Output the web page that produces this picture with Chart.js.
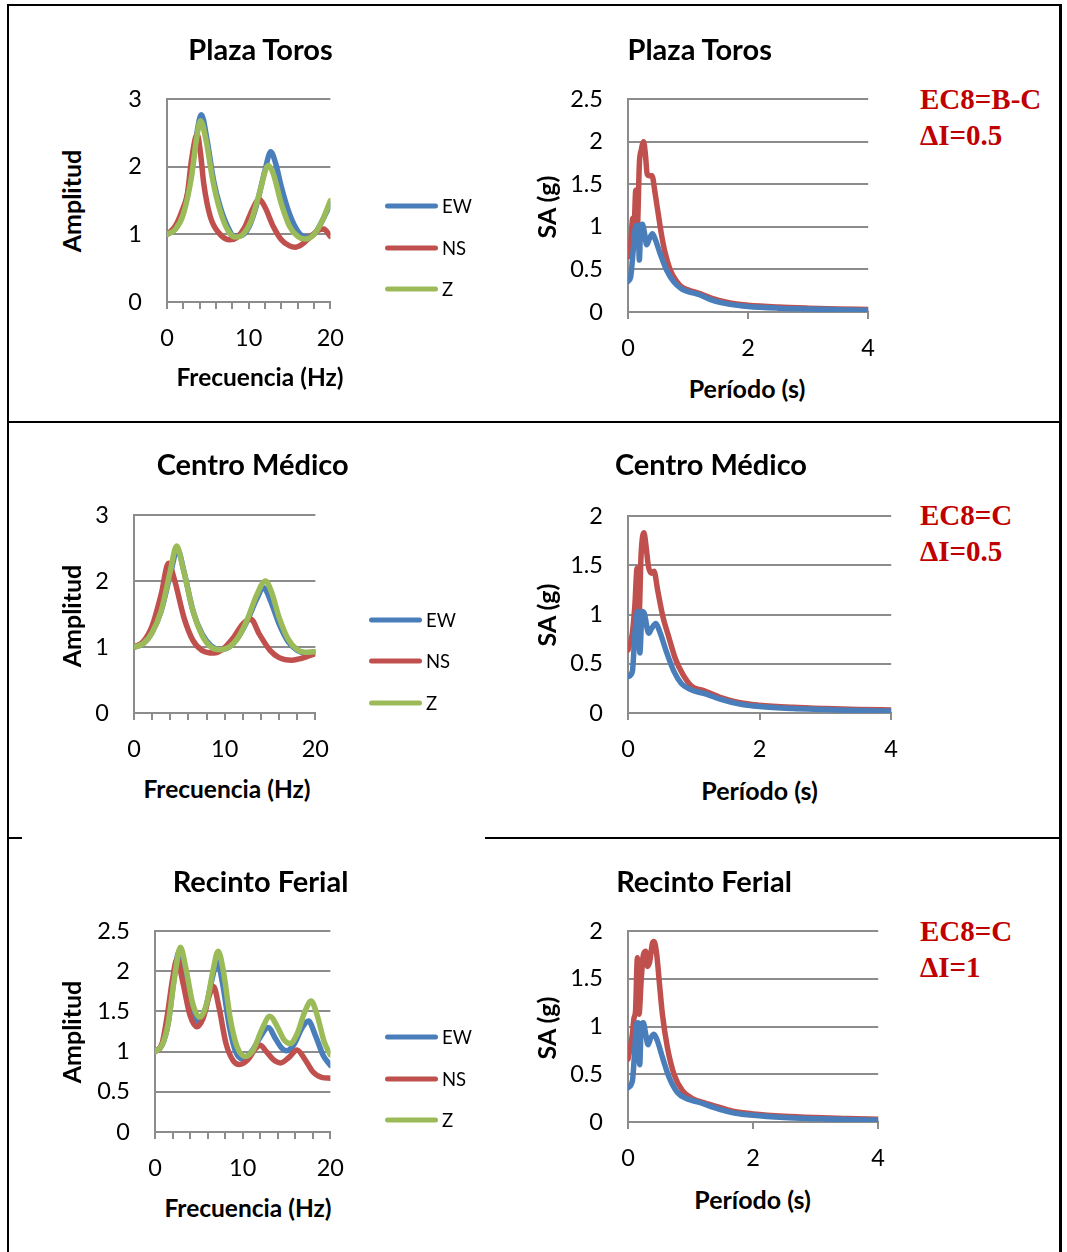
<!DOCTYPE html>
<html>
<head>
<meta charset="utf-8">
<script src="https://cdn.jsdelivr.net/npm/chart.js@4.4.1/dist/chart.umd.min.js"></script>
<style>
html,body{margin:0;padding:0;background:#fff;}
body{width:1067px;height:1252px;position:relative;overflow:hidden;font-family:Lato,"Open Sans",sans-serif;}
.txt{position:absolute;white-space:nowrap;line-height:1;color:#000;}
.ctr{transform:translate(-50%,-50%);}
.rot{transform:translate(-50%,-50%) rotate(-90deg);}
.lft{transform:translate(0,-50%);}
.rule{position:absolute;background:#000;}
.sw{position:absolute;height:5px;border-radius:3px;transform:translate(0,-50%);}
</style>
</head>
<body>
<script>
// ---------------- DATA ----------------
const ampSeriesNames = ['EW', 'NS', 'Z'];
const freqTickLabels = [0, 10, 20];
const periodTickLabels = [0, 2, 4];

// Plaza Toros – amplitude vs frequency (Hz)
const plazaAmpEW = [[0,1.0],[1,1.08],[2,1.33],[3,1.92],[3.6,2.45],[4.2,2.77],[4.9,2.4],[5.7,1.8],[6.5,1.41],[7.4,1.12],[8.2,0.98],[9,0.98],[10,1.1],[11,1.45],[12,1.95],[12.7,2.22],[13.3,2.05],[14,1.7],[15,1.3],[16,1.05],[17,0.96],[18,1.0],[19,1.2],[20,1.45]];
const plazaAmpNS = [[0,1.0],[1,1.12],[2,1.4],[2.5,1.6],[3,2.1],[3.7,2.48],[4.1,2.2],[4.5,1.75],[5.3,1.26],[6.5,1.0],[7.7,0.92],[8.5,0.95],[9.5,1.1],[10.5,1.38],[11.3,1.52],[12,1.4],[13,1.12],[14,0.92],[15,0.83],[15.7,0.81],[16.5,0.85],[17.5,0.96],[18.5,1.06],[19.2,1.08],[20,0.97]];
const plazaAmpZ  = [[0,1.0],[1,1.07],[2,1.3],[3,1.85],[3.6,2.4],[4.1,2.68],[4.8,2.38],[5.6,1.8],[6.5,1.35],[7.5,1.05],[8.4,0.96],[9.3,1.0],[10.3,1.2],[11.3,1.6],[12.4,2.02],[13,1.9],[14,1.45],[15,1.12],[16,0.97],[16.9,0.93],[18,1.0],[19,1.2],[20,1.5]];

// Centro Médico – amplitude vs frequency (Hz)
const centroAmpEW = [[0,1.0],[1,1.05],[2,1.22],[3,1.55],[4,2.1],[4.8,2.48],[5.5,2.15],[6.5,1.55],[7.5,1.2],[8.5,1.02],[9.5,0.96],[10.5,1.0],[11.5,1.15],[12.5,1.4],[13.5,1.72],[14.3,1.9],[15,1.72],[16,1.35],[17,1.08],[18,0.95],[19,0.91],[20,0.93]];
const centroAmpNS = [[0,1.0],[1,1.08],[2,1.32],[3,1.8],[3.8,2.27],[4.5,2.0],[5.5,1.45],[6.5,1.1],[7.5,0.95],[8.8,0.91],[9.8,0.97],[11,1.15],[12,1.35],[12.9,1.42],[13.8,1.2],[15,0.95],[16,0.84],[17.4,0.8],[18.5,0.83],[20,0.9]];
const centroAmpZ  = [[0,1.0],[1,1.05],[2,1.22],[3,1.55],[4,2.15],[4.7,2.53],[5.4,2.2],[6.5,1.55],[7.5,1.18],[8.5,1.0],[9.5,0.96],[10.5,1.0],[11.5,1.15],[12.5,1.42],[13.5,1.78],[14.5,2.0],[15.2,1.82],[16,1.45],[17,1.12],[18,0.96],[18.8,0.92],[20,0.93]];

// Recinto Ferial – amplitude vs frequency (Hz)
const ferialAmpEW = [[0,1.0],[0.8,1.08],[1.5,1.35],[2.1,1.85],[2.75,2.25],[3.4,1.95],[4.2,1.5],[4.95,1.37],[5.8,1.55],[6.5,1.9],[7.1,2.12],[7.7,1.85],[8.5,1.3],[9.2,1.0],[10.0,0.91],[11,1.0],[12,1.18],[12.9,1.3],[13.8,1.15],[14.4,1.05],[15.0,1.01],[15.8,1.08],[16.8,1.3],[17.5,1.38],[18.3,1.2],[19.2,0.95],[20,0.83]];
const ferialAmpNS = [[0,1.0],[0.8,1.1],[1.4,1.45],[2.0,1.9],[2.5,2.15],[3.2,1.85],[4.0,1.45],[4.76,1.31],[5.5,1.42],[6.2,1.7],[6.67,1.81],[7.3,1.55],[8.1,1.1],[8.9,0.89],[9.6,0.84],[10.6,0.9],[11.4,1.03],[12.0,1.08],[12.7,1.0],[13.5,0.9],[14.3,0.86],[15.3,0.93],[16.2,1.02],[17.0,0.92],[18.0,0.75],[19.0,0.68],[20,0.67]];
const ferialAmpZ  = [[0,1.0],[0.8,1.08],[1.5,1.35],[2.2,1.9],[2.9,2.3],[3.5,2.05],[4.3,1.6],[5.1,1.43],[5.9,1.6],[6.6,2.0],[7.2,2.25],[7.8,2.0],[8.6,1.4],[9.4,1.05],[10.3,0.94],[11.2,1.02],[12.2,1.28],[13.1,1.44],[14,1.3],[14.7,1.15],[15.4,1.1],[16.2,1.22],[17.1,1.5],[17.8,1.63],[18.5,1.45],[19.3,1.12],[20,0.96]];

// Spectral acceleration SA (g) vs period (s): red and blue curves
const plazaSARed  = [[0,0.65],[0.04,0.75],[0.08,1.1],[0.1,1.0],[0.13,1.43],[0.155,1.0],[0.19,1.75],[0.22,1.9],[0.26,2.0],[0.29,1.85],[0.32,1.62],[0.36,1.6],[0.4,1.6],[0.45,1.4],[0.5,1.17],[0.56,0.9],[0.62,0.69],[0.7,0.5],[0.81,0.36],[0.9,0.29],[1.0,0.26],[1.2,0.215],[1.4,0.16],[1.7,0.105],[2,0.08],[2.5,0.058],[3,0.045],[3.5,0.036],[4,0.03]];
const plazaSABlue = [[0,0.36],[0.044,0.41],[0.078,0.65],[0.117,0.96],[0.144,1.02],[0.172,0.96],[0.189,0.61],[0.211,0.99],[0.239,1.03],[0.267,0.96],[0.311,0.79],[0.356,0.86],[0.406,0.92],[0.45,0.86],[0.533,0.69],[0.644,0.49],[0.756,0.36],[0.894,0.27],[1.0,0.24],[1.2,0.2],[1.4,0.14],[1.7,0.09],[2,0.065],[2.5,0.045],[3,0.035],[3.5,0.025],[4,0.02]];

const centroSARed  = [[0,0.64],[0.066,0.81],[0.105,1.1],[0.138,1.47],[0.165,0.95],[0.2,1.62],[0.242,1.83],[0.275,1.69],[0.31,1.49],[0.358,1.42],[0.396,1.44],[0.45,1.25],[0.53,0.98],[0.616,0.78],[0.726,0.54],[0.836,0.39],[0.97,0.27],[1.14,0.23],[1.4,0.16],[1.7,0.105],[2,0.08],[2.5,0.058],[3,0.045],[3.5,0.036],[4,0.03]];
const centroSABlue = [[0,0.37],[0.066,0.42],[0.105,0.81],[0.149,1.03],[0.18,0.61],[0.215,1.03],[0.248,1.01],[0.314,0.81],[0.358,0.86],[0.424,0.91],[0.48,0.83],[0.59,0.61],[0.7,0.42],[0.81,0.3],[0.946,0.24],[1.03,0.22],[1.2,0.19],[1.4,0.14],[1.7,0.09],[2,0.065],[2.5,0.045],[3,0.035],[3.5,0.025],[4,0.02]];

const ferialSARed  = [[0,0.66],[0.07,0.92],[0.096,1.09],[0.12,1.16],[0.15,1.72],[0.176,1.13],[0.213,1.51],[0.245,1.75],[0.283,1.79],[0.31,1.63],[0.347,1.68],[0.39,1.87],[0.416,1.89],[0.46,1.75],[0.5,1.47],[0.55,1.13],[0.63,0.78],[0.736,0.5],[0.87,0.33],[1.03,0.245],[1.22,0.2],[1.48,0.15],[1.7,0.11],[2,0.085],[2.5,0.06],[3,0.046],[3.5,0.037],[4,0.03]];
const ferialSABlue = [[0,0.36],[0.07,0.43],[0.107,0.75],[0.133,1.02],[0.16,1.04],[0.187,0.6],[0.213,1.02],[0.245,1.04],[0.283,0.92],[0.32,0.81],[0.363,0.88],[0.416,0.92],[0.47,0.85],[0.55,0.68],[0.656,0.47],[0.79,0.31],[0.95,0.24],[1.11,0.21],[1.48,0.13],[1.7,0.095],[2,0.07],[2.5,0.047],[3,0.035],[3.5,0.025],[4,0.02]];

const siteTitles = ['Plaza Toros', 'Centro Médico', 'Recinto Ferial'];
const ec8Class = ['EC8=B-C', 'EC8=C', 'EC8=C'];
const deltaI = ['ΔI=0.5', 'ΔI=0.5', 'ΔI=1'];

// ---------------- STYLE / LAYOUT ----------------
const FONT = 'Lato, "Open Sans", sans-serif';
const COL = { EW: '#4A7EBB', NS: '#C0504D', Z: '#9BBB59', red: '#C0504D', blue: '#4A7EBB' };
const GRID = '#8C8C8C';
const TICK_SIZE = 23.5;

Chart.defaults.font.family = FONT;
Chart.defaults.color = '#000';

function addText(text, x, y, cls, size, weight, extra) {
  const d = document.createElement('div');
  d.className = 'txt ' + cls;
  d.textContent = text;
  d.style.left = x + 'px';
  d.style.top = y + 'px';
  d.style.fontSize = size + 'px';
  d.style.fontWeight = weight;
  if (extra) Object.assign(d.style, extra);
  document.body.appendChild(d);
}

function rule(x, y, w, h) {
  const d = document.createElement('div');
  d.className = 'rule';
  Object.assign(d.style, { left: x + 'px', top: y + 'px', width: w + 'px', height: h + 'px' });
  document.body.appendChild(d);
}

function toPts(arr) { return arr.map(p => ({ x: p[0], y: p[1] })); }

function chartConfig(xMax, xStep, xLabels, yMax, yStep, datasets, yW, xH) {
  return {
    type: 'line',
    data: { datasets },
    options: {
      responsive: false,
      animation: false,
      layout: { padding: { top: 2, right: 2, left: 0, bottom: 0 } },
      plugins: { legend: { display: false }, tooltip: { enabled: false }, title: { display: false } },
      elements: {
        point: { radius: 0 },
        line: { borderWidth: 5.5, cubicInterpolationMode: 'monotone', borderCapStyle: 'round', borderJoinStyle: 'round' }
      },
      scales: {
        x: {
          type: 'linear', min: 0, max: xMax,
          afterFit: s => { s.height = xH; },
          ticks: {
            stepSize: xStep, autoSkip: false, maxRotation: 0, padding: 15,
            color: '#000', font: { family: FONT, size: TICK_SIZE },
            callback: v => (xLabels.indexOf(v) >= 0 ? String(v) : '')
          },
          grid: { drawOnChartArea: false, drawTicks: true, tickLength: 7, color: GRID, lineWidth: 2 },
          border: { color: GRID, width: 2 }
        },
        y: {
          type: 'linear', min: 0, max: yMax,
          afterFit: s => { s.width = yW; },
          ticks: {
            stepSize: yStep, padding: 25, color: '#000', font: { family: FONT, size: TICK_SIZE },
            callback: v => String(Math.round(v * 10) / 10)
          },
          grid: { drawTicks: false, color: GRID, lineWidth: 2 },
          border: { color: GRID, width: 2 }
        }
      }
    }
  };
}

function makeChart(box, xMax, xStep, xLabels, yMax, yStep, datasets) {
  const [l, t, r, b] = box;
  const yW = 80, xH = 60;
  const cv = document.createElement('canvas');
  let W = (r - l) + yW + 40, H = (b - t) + xH + 40;
  cv.width = W; cv.height = H;
  cv.style.cssText = `position:absolute;left:0px;top:0px;width:${W}px;height:${H}px;`;
  document.body.appendChild(cv);
  // first pass: measure the offsets the layout adds around the plot area
  let ch = new Chart(cv, chartConfig(xMax, xStep, xLabels, yMax, yStep, datasets, yW, xH));
  const ca = ch.chartArea;
  const offL = ca.left, offT = ca.top, offR = W - ca.right, offB = H - ca.bottom;
  ch.destroy();
  W = Math.round(offL + (r - l) + offR);
  H = Math.round(offT + (b - t) + offB);
  cv.width = W; cv.height = H;
  cv.style.cssText = `position:absolute;left:${Math.round(l - offL)}px;top:${Math.round(t - offT)}px;width:${W}px;height:${H}px;`;
  new Chart(cv, chartConfig(xMax, xStep, xLabels, yMax, yStep, datasets, yW, xH));
}

function ampDatasets(ew, ns, z) {
  const vals = { EW: ew, NS: ns, Z: z };
  const order = { EW: 3, NS: 2, Z: 1 };
  return ampSeriesNames.map(n => ({ label: n, data: toPts(vals[n]), borderColor: COL[n], order: order[n], fill: false }));
}
function saDatasets(red, blue) {
  return [
    { label: 'SA rojo', data: toPts(red), borderColor: COL.red, order: 2, fill: false },
    { label: 'SA azul', data: toPts(blue), borderColor: COL.blue, order: 1, fill: false }
  ];
}

// plot areas [left, top, right, bottom]
const ampBoxes = [[167, 99, 330, 302], [134, 515, 315, 713], [155, 931, 330, 1132]];
const saBoxes = [[628, 99, 868, 312], [628, 516, 891, 713], [628, 931, 878, 1122]];
const ampYMax = [3, 3, 2.5];
const ampYStep = [1, 1, 0.5];
const saYMax = [2.5, 2, 2];

const ampData = [
  [plazaAmpEW, plazaAmpNS, plazaAmpZ],
  [centroAmpEW, centroAmpNS, centroAmpZ],
  [ferialAmpEW, ferialAmpNS, ferialAmpZ]
];
const saData = [[plazaSARed, plazaSABlue], [centroSARed, centroSABlue], [ferialSARed, ferialSABlue]];

for (let i = 0; i < 3; i++) {
  makeChart(ampBoxes[i], 20, 2, freqTickLabels, ampYMax[i], ampYStep[i], ampDatasets(...ampData[i]));
  makeChart(saBoxes[i], 4, 2, periodTickLabels, saYMax[i], 0.5, saDatasets(...saData[i]));
}

// text layout
const titleLeft = [[260.5, 47.5], [252.7, 463], [260.5, 880]];
const titleRight = [[699.7, 47.5], [711, 463], [704, 880]];
const ampYTitle = [[71, 201], [71, 616], [71, 1032]];
const saYTitle = [[546, 207], [546, 615], [546, 1028]];
const ampXTitle = [[260, 377], [227, 788.5], [248, 1208]];
const saXTitle = [[747, 388], [759.6, 790], [752.6, 1198.5]];
const legendLeft = [385, 369, 385];
const legendY = [[205.7, 247.7, 289.3], [620, 661, 702.7], [1037.3, 1078.7, 1120]];
const noteY = [[98.8, 135], [514.5, 550.5], [930.5, 966.7]];

for (let i = 0; i < 3; i++) {
  addText(siteTitles[i], titleLeft[i][0], titleLeft[i][1], 'ctr', 29, 700);
  addText(siteTitles[i], titleRight[i][0], titleRight[i][1], 'ctr', 29, 700);
  addText('Amplitud', ampYTitle[i][0], ampYTitle[i][1], 'rot', 25, 700);
  addText('SA (g)', saYTitle[i][0], saYTitle[i][1], 'rot', 25, 700);
  addText('Frecuencia (Hz)', ampXTitle[i][0], ampXTitle[i][1], 'ctr', 24.5, 700);
  addText('Período (s)', saXTitle[i][0], saXTitle[i][1], 'ctr', 25, 700);
  ampSeriesNames.forEach((n, k) => {
    const sw = document.createElement('div');
    sw.className = 'sw';
    Object.assign(sw.style, { left: legendLeft[i] + 'px', top: legendY[i][k] + 'px', width: '53px', background: COL[n] });
    document.body.appendChild(sw);
    addText(n, legendLeft[i] + 57, legendY[i][k], 'lft', 18.5, 400);
  });
  const serif = { fontFamily: '"Liberation Serif","Times New Roman",serif', color: '#C00000' };
  addText(ec8Class[i], 920, noteY[i][0], 'lft', 29, 700, serif);
  addText(deltaI[i], 920, noteY[i][1], 'lft', 29, 700, serif);
}

// table borders
rule(7, 4, 1055, 2);
rule(7, 4, 2, 1250);
rule(1059, 4, 3, 1250);
rule(7, 421, 1055, 2);
rule(7, 837, 15, 2);
rule(485, 837, 577, 2);
</script>
</body>
</html>
